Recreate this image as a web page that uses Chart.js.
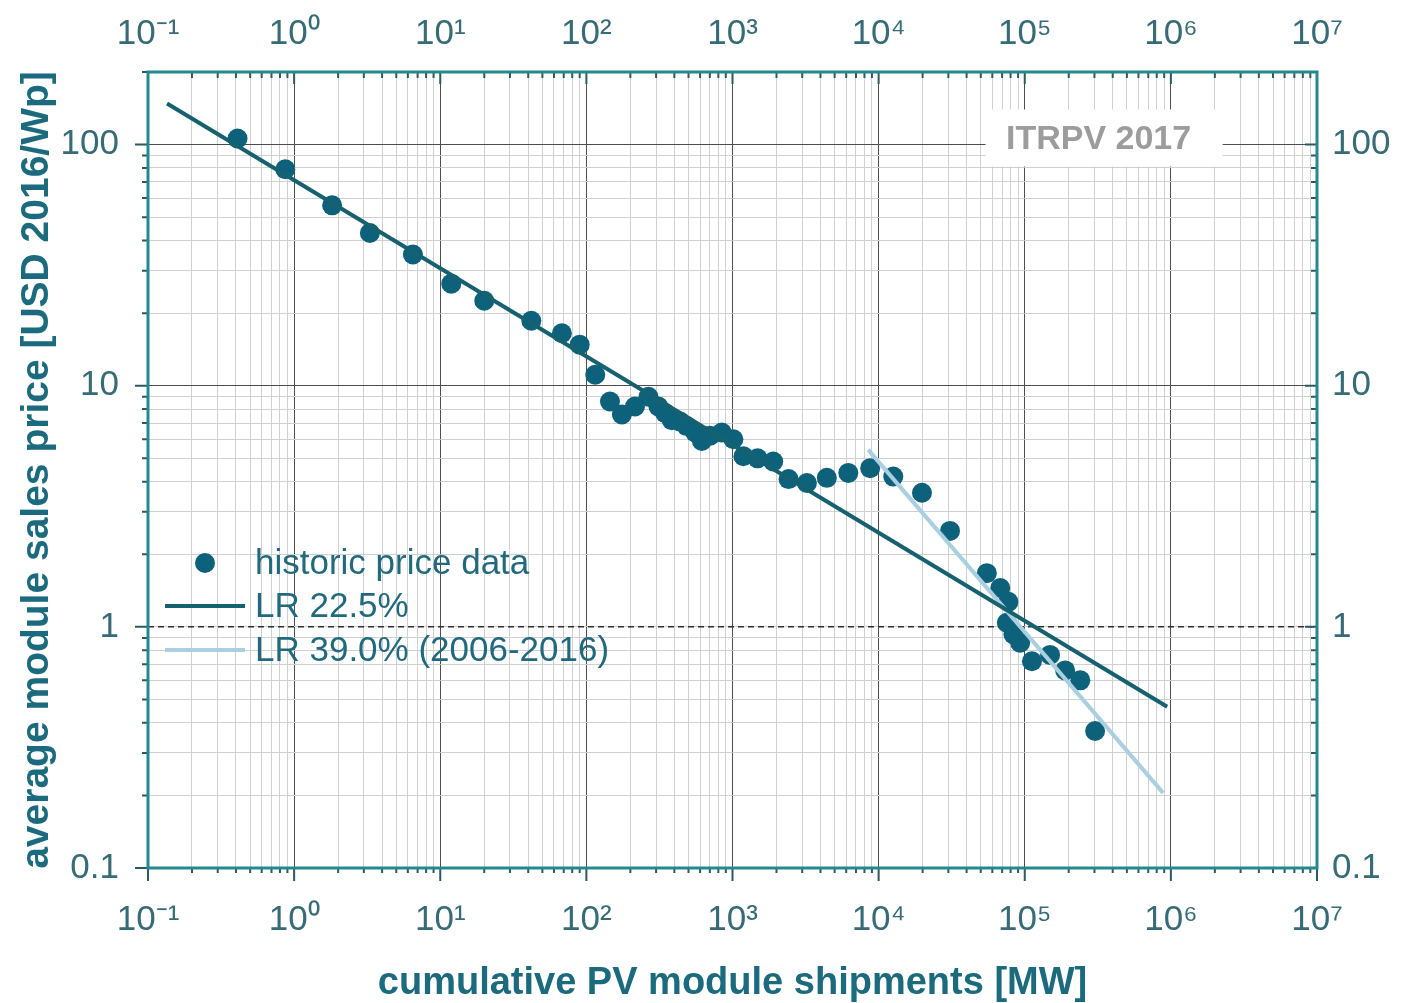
<!DOCTYPE html>
<html>
<head>
<meta charset="utf-8">
<title>PV module price learning curve</title>
<script src="https://cdn.jsdelivr.net/npm/chart.js@4.4.1/dist/chart.umd.min.js"></script>
<style>
  body { margin: 0; background: #fff; }
  canvas { display: block; }
</style>
</head>
<body>
<canvas id="myChart" width="1415" height="1003"></canvas>
<script>
// historic price data
var shipments = [0.41, 0.87, 1.82, 3.3, 6.5, 11.9, 20, 42, 68, 90,
  115, 145, 175, 215, 266, 311, 346, 384, 438, 486,
  555, 617, 703, 845, 1014, 1188, 1485, 1900, 2420, 3230,
  4420, 6200, 8750, 12600, 19800, 30800, 55000, 68000, 77300, 75400,
  83700, 93000, 112000, 149000, 189000, 240000, 303000];
var prices = [106, 79, 56, 43, 35, 26.5, 22.5, 18.6, 16.5, 14.8,
  11.1, 8.6, 7.6, 8.2, 9.0, 8.2, 7.7, 7.2, 7.1, 6.8,
  6.4, 5.9, 6.2, 6.4, 6.0, 5.1, 5.0, 4.85, 4.1, 3.95,
  4.15, 4.35, 4.55, 4.2, 3.6, 2.5, 1.67, 1.45, 1.27, 1.04,
  0.93, 0.86, 0.72, 0.765, 0.66, 0.60, 0.37];

// fitted learning curves, end points
var lr225X = [0.135, 944000];
var lr225Y = [148, 0.466];
var lr39X = [8470, 885000];
var lr39Y = [5.43, 0.205];

var seriesLabels = ['historic price data', 'LR 22.5%', 'LR 39.0% (2006-2016)'];

// axes
var xMin = 0.1, xMax = 1e7;
var yMin = 0.1, yMax = 200;
var xTickLabels = ['10\u207B\u00B9', '10\u2070', '10\u00B9', '10\u00B2', '10\u00B3', '10\u2074', '10\u2075', '10\u2076', '10\u2077'];
var yTickLabels = ['0.1', '1', '10', '100'];

var noteText = 'ITRPV 2017';
var noteX = 320000, noteY = 105;

var fontFamily = '"Liberation Sans", Arial, sans-serif';
var teal = '#1b6a7e';
var tickTextColor = '#376b76';

function isDecade(v) {
  var l = Math.log10(v);
  return Math.abs(l - Math.round(l)) < 1e-6;
}

function logTicks(min, max) {
  var out = [];
  for (var n = Math.floor(Math.log10(min)); n <= Math.ceil(Math.log10(max)); n++) {
    for (var k = 1; k <= 9; k++) {
      var v = k * Math.pow(10, n);
      if (v >= min * 0.999 && v <= max * 1.001) out.push({ value: v });
    }
  }
  return out;
}

function pairs(xs, ys) {
  return xs.map(function (x, i) { return { x: x, y: ys[i] }; });
}

function gridColor(c) {
  if (!c.tick) return 'rgba(0,0,0,0)';
  if (c.scale.id === 'y' && Math.abs(c.tick.value - 1) < 1e-9) return '#d0d0d0';
  return isDecade(c.tick.value) ? '#4d4d4d' : '#d0d0d0';
}

function xLabel(v) {
  if (!isDecade(v)) return '';
  return xTickLabels[Math.round(Math.log10(v)) + 1];
}

function yLabel(v) {
  if (!isDecade(v)) return '';
  return yTickLabels[Math.round(Math.log10(v)) + 1];
}

var frame = {
  id: 'frame',
  beforeDatasetsDraw: function (chart) {
    var ctx = chart.ctx, a = chart.chartArea;
    var x = chart.scales.x, y = chart.scales.y;
    ctx.save();
    // dashed line at 1
    var p1 = y.getPixelForValue(1);
    ctx.strokeStyle = '#2e2e2e';
    ctx.lineWidth = 1.5;
    ctx.setLineDash([6, 4]);
    ctx.beginPath();
    ctx.moveTo(a.left, p1);
    ctx.lineTo(a.right, p1);
    ctx.stroke();
    ctx.setLineDash([]);
    // ITRPV note
    var cx = x.getPixelForValue(noteX), cy = y.getPixelForValue(noteY);
    ctx.fillStyle = '#ffffff';
    ctx.fillRect(cx - 113, cy - 30, 237, 57);
    ctx.font = 'bold 34px ' + fontFamily;
    ctx.fillStyle = '#9c9c9c';
    ctx.textAlign = 'center';
    ctx.textBaseline = 'middle';
    ctx.fillText(noteText, cx, cy);
    ctx.restore();
  },
  afterDraw: function (chart) {
    var ctx = chart.ctx, a = chart.chartArea;
    var x = chart.scales.x, y = chart.scales.y;
    ctx.save();
    // tick marks
    ctx.strokeStyle = '#2d5962';
    ctx.lineWidth = 2;
    ctx.beginPath();
    x.ticks.forEach(function (t) {
      var px = x.getPixelForValue(t.value), big = isDecade(t.value);
      ctx.moveTo(px, a.bottom);
      ctx.lineTo(px, a.bottom + (big ? 13 : 5));
      ctx.moveTo(px, a.top);
      ctx.lineTo(px, a.top + (big ? 12 : 6));
    });
    y.ticks.forEach(function (t) {
      var py = y.getPixelForValue(t.value), big = isDecade(t.value);
      ctx.moveTo(a.left - (big ? 13 : 6), py);
      ctx.lineTo(a.left, py);
      ctx.moveTo(a.right, py);
      ctx.lineTo(a.right - (big ? 12 : 6), py);
    });
    ctx.stroke();
    // frame
    ctx.strokeStyle = '#24898f';
    ctx.lineWidth = 3;
    ctx.strokeRect(a.left, a.top, a.right - a.left, a.bottom - a.top);

    // legend
    var ds = chart.data.datasets;
    var rows = [a.bottom - 305, a.bottom - 262, a.bottom - 218];
    ctx.font = '35px ' + fontFamily;
    ctx.textAlign = 'left';
    ctx.textBaseline = 'middle';
    ds.forEach(function (d, i) {
      var ry = rows[i];
      if (i === 0) {
        ctx.fillStyle = d.backgroundColor;
        ctx.beginPath();
        ctx.arc(a.left + 57, ry, 10, 0, Math.PI * 2);
        ctx.fill();
      } else {
        ctx.strokeStyle = d.borderColor;
        ctx.lineWidth = 4;
        ctx.beginPath();
        ctx.moveTo(a.left + 17, ry);
        ctx.lineTo(a.left + 97, ry);
        ctx.stroke();
      }
      ctx.fillStyle = '#21697c';
      ctx.fillText(d.label, a.left + 107, ry + 1);
    });
    ctx.restore();
  }
};

var tickFont = { size: 35, family: fontFamily };

var ctx = document.getElementById('myChart').getContext('2d');
var chart = new Chart(ctx, {
  type: 'scatter',
  data: {
    datasets: [{
      label: seriesLabels[0],
      data: pairs(shipments, prices),
      backgroundColor: '#0e617a',
      borderWidth: 0,
      pointRadius: 10,
      order: 3
    }, {
      label: seriesLabels[1],
      data: pairs(lr225X, lr225Y),
      showLine: true,
      borderColor: '#16616f',
      borderWidth: 4,
      pointRadius: 0,
      order: 1
    }, {
      label: seriesLabels[2],
      data: pairs(lr39X, lr39Y),
      showLine: true,
      borderColor: '#a9cfe1',
      borderWidth: 4,
      pointRadius: 0,
      order: 2
    }]
  },
  options: {
    responsive: false,
    animation: false,
    events: [],
    layout: { padding: 0 },
    plugins: {
      legend: { display: false },
      tooltip: { enabled: false }
    },
    scales: {
      x: {
        type: 'logarithmic',
        position: 'bottom',
        min: xMin, max: xMax,
        afterBuildTicks: function (s) { s.ticks = logTicks(xMin, xMax); },
        afterFit: function (s) { s.height = 135; },
        grid: { color: gridColor, lineWidth: 1, drawTicks: false },
        border: { display: false },
        ticks: { autoSkip: false, maxRotation: 0, padding: 31, callback: xLabel, color: tickTextColor, font: tickFont },
        title: {
          display: true,
          text: 'cumulative PV module shipments [MW]',
          color: teal,
          font: { size: 38, weight: 'bold', family: fontFamily, lineHeight: 1 },
          padding: { top: 0, bottom: 0 }
        }
      },
      x2: {
        type: 'logarithmic',
        position: 'top',
        min: xMin, max: xMax,
        afterBuildTicks: function (s) { s.ticks = logTicks(xMin, xMax); },
        afterFit: function (s) { s.height = 72; },
        grid: { drawOnChartArea: false, drawTicks: false },
        border: { display: false },
        ticks: { autoSkip: false, maxRotation: 0, padding: 17, callback: xLabel, color: tickTextColor, font: tickFont }
      },
      y: {
        type: 'logarithmic',
        position: 'left',
        min: yMin, max: yMax,
        afterBuildTicks: function (s) { s.ticks = logTicks(yMin, yMax); },
        afterFit: function (s) { s.width = 148; },
        grid: { color: gridColor, lineWidth: 1, drawTicks: false },
        border: { display: false },
        ticks: { autoSkip: false, padding: 29, callback: yLabel, color: tickTextColor, font: tickFont },
        title: {
          display: true,
          text: 'average module sales price [USD 2016/Wp]',
          color: teal,
          font: { size: 39, weight: 'bold', family: fontFamily, lineHeight: 1 },
          padding: { top: 18, bottom: 0 }
        }
      },
      y2: {
        type: 'logarithmic',
        position: 'right',
        min: yMin, max: yMax,
        afterBuildTicks: function (s) { s.ticks = logTicks(yMin, yMax); },
        afterFit: function (s) { s.width = 98; },
        grid: { drawOnChartArea: false, drawTicks: false },
        border: { display: false },
        ticks: { autoSkip: false, padding: 15, callback: yLabel, color: tickTextColor, font: tickFont }
      }
    }
  },
  plugins: [frame]
});
</script>
</body>
</html>
